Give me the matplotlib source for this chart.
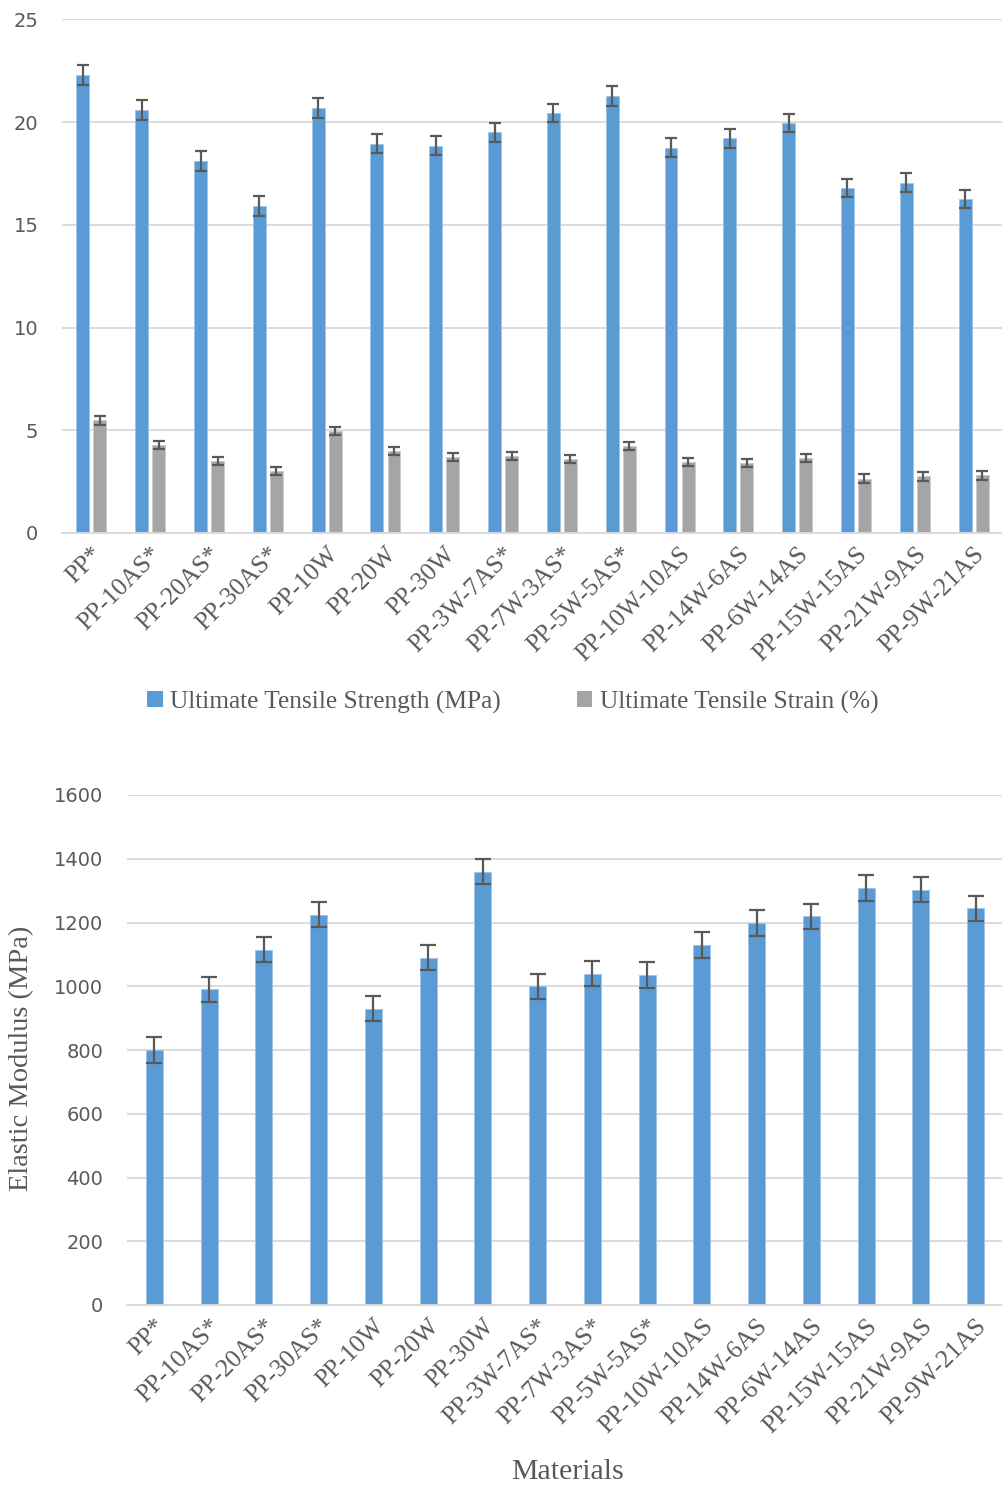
import matplotlib
matplotlib.use("Agg")
import matplotlib.pyplot as plt
import numpy as np
from matplotlib.patches import Patch

materials = ["PP*", "PP-10AS*", "PP-20AS*", "PP-30AS*", "PP-10W", "PP-20W", "PP-30W",
             "PP-3W-7AS*", "PP-7W-3AS*", "PP-5W-5AS*", "PP-10W-10AS", "PP-14W-6AS",
             "PP-6W-14AS", "PP-15W-15AS", "PP-21W-9AS", "PP-9W-21AS"]

strength = [22.3, 20.57, 18.1, 15.93, 20.67, 18.95, 18.85, 19.5, 20.45, 21.25,
            18.75, 19.2, 19.95, 16.8, 17.05, 16.25]
strength_err = [0.48, 0.48, 0.48, 0.48, 0.48, 0.45, 0.45, 0.45, 0.45, 0.48,
                0.45, 0.45, 0.45, 0.45, 0.45, 0.45]

strain = [5.48, 4.27, 3.51, 3.02, 4.97, 4.0, 3.7, 3.75, 3.6, 4.25,
          3.45, 3.4, 3.65, 2.65, 2.75, 2.8]
strain_err = [0.22, 0.2, 0.2, 0.2, 0.2, 0.2, 0.2, 0.2, 0.2, 0.2,
              0.2, 0.2, 0.2, 0.2, 0.2, 0.2]

modulus = [800, 990, 1115, 1225, 930, 1090, 1360, 1000, 1040, 1035,
           1130, 1199, 1219, 1308, 1303, 1244]
modulus_err = [40, 40, 40, 40, 40, 40, 40, 40, 40, 40,
               40, 40, 40, 40, 40, 40]

blue = "#5B9BD5"
gray = "#A5A5A5"
errc = "#595959"
gridc = "#D9D9D9"
txt = "#595959"
serif = "Liberation Serif"

fig = plt.figure(figsize=(10.03, 14.86), dpi=100)

x = np.arange(len(materials))


def style(ax, ymax, step):
    ax.set_xlim(-0.5, len(materials) - 0.5)
    ax.set_ylim(0, ymax)
    ax.set_yticks(np.arange(0, ymax + 1, step))
    ax.yaxis.grid(True, color=gridc, linewidth=1.3)
    ax.set_axisbelow(True)
    for s in ["top", "right", "left"]:
        ax.spines[s].set_visible(False)
    ax.spines["bottom"].set_color(gridc)
    ax.spines["bottom"].set_linewidth(1.3)
    ax.tick_params(axis="y", length=0, pad=17, labelsize=14, labelcolor=txt)
    ax.tick_params(axis="x", length=0, pad=7)
    ax.set_xticks(x)
    ax.set_xticklabels(materials, rotation=45, ha="right", rotation_mode="anchor",
                       family=serif, fontsize=18.3, color=txt)


# top chart: strength and strain
ax1 = fig.add_axes([62 / 1003, 1 - 533 / 1486, 941 / 1003, (533 - 19.3) / 1486])
w = 0.22
ekw = dict(ecolor=errc, elinewidth=1.6, capsize=4.5, capthick=1.6)
ax1.bar(x - 0.145, strength, w, color=blue, edgecolor="#9DC3E6", linewidth=0.6,
        yerr=strength_err, error_kw=ekw)
ax1.bar(x + 0.145, strain, w, color=gray, edgecolor="#C9C9C9", linewidth=0.6,
        yerr=strain_err, error_kw=ekw)
style(ax1, 25, 5)

handles = [Patch(facecolor=blue, label="Ultimate Tensile Strength (MPa)"),
           Patch(facecolor=gray, label="Ultimate Tensile Strain (%)")]
fig.legend(handles=handles, loc="center", bbox_to_anchor=(513 / 1003, 1 - 702 / 1486),
           ncol=2, frameon=False, handlelength=0.6, handleheight=0.6, handletextpad=0.3,
           columnspacing=3.0, prop={"family": serif, "size": 18.3}, labelcolor=txt)

# bottom chart: elastic modulus
ax2 = fig.add_axes([127 / 1003, 1 - 1305 / 1486, 876 / 1003, (1305 - 795) / 1486])
ax2.bar(x, modulus, 0.31, color=blue, edgecolor="#9DC3E6", linewidth=0.6,
        yerr=modulus_err, error_kw=dict(ecolor=errc, elinewidth=1.6, capsize=6, capthick=1.6))
style(ax2, 1600, 200)

fig.text(22 / 1003, 1 - 1058 / 1486, "Elastic Modulus (MPa)", rotation=90, ha="center",
         va="center", family=serif, fontsize=20.5, color=txt)
fig.text(568 / 1003, 1 - 1472 / 1486, "Materials", ha="center", va="center",
         family=serif, fontsize=21.5, color=txt)

fig.savefig("out.png", dpi=100)
